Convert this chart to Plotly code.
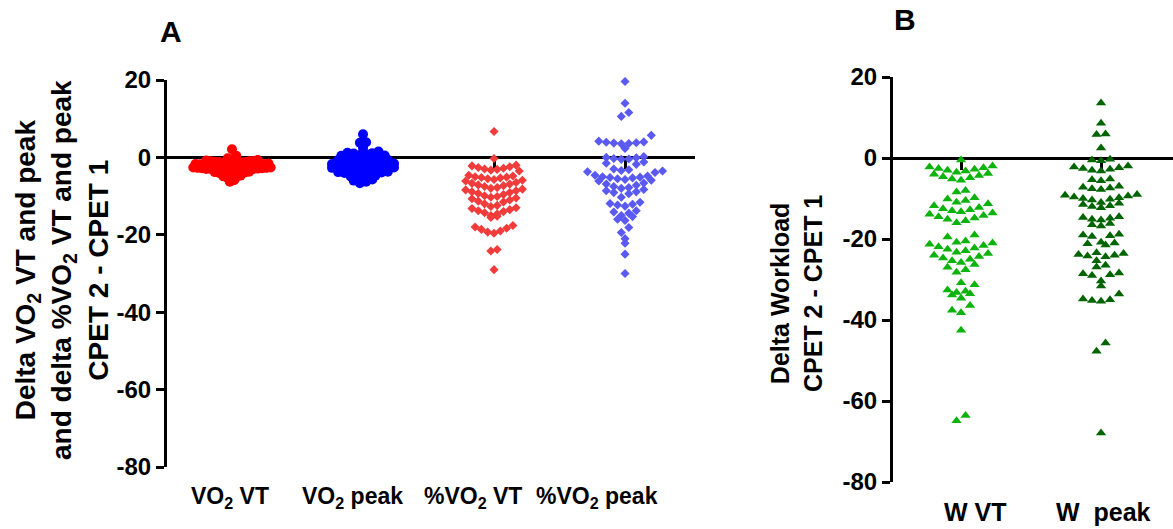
import numpy as np
import plotly.graph_objects as go

W, H = 1173, 529

# ---------------- data ----------------
categories_A = ["VO<sub>2</sub> VT", "VO<sub>2</sub> peak", "%VO<sub>2</sub> VT", "%VO<sub>2</sub> peak"]
categories_B = ["W VT", "W  peak"]
y_ticks = [-80, -60, -40, -20, 0, 20]
y_tick_text = ["-80", "-60", "-40", "-20", "0", "20"]

vo2_vt = [2.1, 0.4, -0.2, -0.5, -0.7, -0.9, -1.0, -1.1, -1.2, -1.3, -1.4, -1.5, -1.5, -1.6, -1.7,
          -1.8, -1.9, -2.0, -2.0, -2.1, -2.2, -2.3, -2.3, -2.4, -2.5, -2.6, -2.6, -2.7, -2.8, -2.9,
          -3.0, -3.0, -3.1, -3.2, -3.3, -3.4, -3.4, -3.5, -3.6, -3.7, -3.8, -3.9, -4.0, -4.1, -4.2,
          -4.3, -4.4, -4.6, -4.7, -4.9, -5.1, -5.3, -5.6, -5.9, -6.3, -1.2, -1.7, -2.2, -2.8, -3.3,
          -0.8, -1.4, -2.0, -2.5, -3.6, -1.0, -1.9, -2.4, -3.0, -2.7]

vo2_peak = [6.0, 3.9, 3.8, 3.1, 2.4, 1.5, 1.2, 1.0, 0.8, 0.6, 0.4, 0.2, 0.0, -0.2, -0.4, -0.5,
            -0.7, -0.9, -1.0, -1.1, -1.2, -1.3, -1.5, -1.6, -1.7, -1.8, -2.0, -2.1, -2.2, -2.3,
            -2.4, -2.5, -2.6, -2.7, -2.8, -3.0, -3.1, -3.2, -3.3, -3.4, -3.5, -3.6, -3.8, -3.9,
            -4.0, -4.1, -4.2, -4.4, -4.5, -4.7, -4.9, -5.0, -5.2, -5.4, -5.7, -6.0, -6.3, -6.7,
            0.5, -0.6, -1.4, -2.9, -3.7, 1.1, -0.3, -1.9, -2.5, -4.3]

pct_vo2_vt = [6.7, -0.3, -2.0, -2.2, -2.4, -2.6, -2.8, -3.0, -3.1, -3.3, -3.5, -4.6, -4.8, -5.0,
              -5.1, -5.2, -5.3, -5.5, -5.7, -5.9, -6.1, -6.5, -6.7, -6.9, -7.1, -7.3, -7.5, -7.8,
              -8.0, -8.2, -8.4, -8.6, -8.9, -9.1, -9.3, -9.6, -9.9, -10.1, -10.3, -10.5, -10.7,
              -11.0, -11.3, -11.5, -12.0, -12.4, -12.7, -13.0, -13.2, -13.5, -13.8, -14.0, -14.3,
              -14.6, -15.0, -15.2, -15.5, -17.6, -18.0, -18.3, -18.6, -19.0, -19.3, -19.6, -23.8,
              -24.2, -29.0]

pct_vo2_peak = [19.6, 14.0, 11.6, 10.6, 5.7, 4.2, 4.0, 3.9, 3.8, 3.7, 3.6, 3.5, 2.3, 0.2, 0.0,
                -0.1, -0.3, -0.4, -0.5, -1.2, -1.5, -1.8, -3.0, -3.2, -3.4, -3.5, -3.7, -3.9,
                -4.6, -4.8, -5.0, -5.1, -5.2, -5.3, -5.5, -5.7, -5.9, -6.1, -6.6, -6.9, -7.2,
                -7.5, -7.8, -8.0, -8.3, -8.6, -8.9, -9.1, -9.4, -10.3, -11.6, -11.9, -12.1,
                -12.3, -12.6, -13.8, -14.1, -14.4, -15.0, -15.3, -16.0, -16.3, -18.1, -19.4,
                -21.0, -22.2, -25.0, -30.0]

w_vt = [-0.5, -2.0, -2.2, -2.4, -2.6, -2.8, -3.0, -3.2, -3.5, -3.8, -4.0, -4.3, -4.6, -4.9, -5.2,
        -5.5, -8.0, -8.4, -9.8, -10.1, -10.5, -10.9, -11.3, -11.8, -12.2, -12.5, -12.8, -13.0,
        -13.3, -13.6, -13.9, -14.2, -14.5, -14.8, -15.1, -15.5, -16.0, -19.0, -19.5, -20.5,
        -20.8, -21.0, -21.3, -21.6, -21.9, -22.2, -22.5, -22.9, -23.3, -23.6, -24.0, -24.3,
        -24.7, -25.0, -25.4, -25.8, -26.3, -27.0, -27.6, -28.2, -30.8, -31.3, -32.6, -32.9,
        -33.2, -33.5, -33.8, -34.6, -36.4, -37.6, -38.2, -42.5, -63.6, -64.9]

w_peak = [13.6, 8.6, 5.9, 5.8, 2.5, -0.3, -0.5, -0.7, -2.0, -2.2, -2.4, -2.6, -2.8, -3.0, -3.2,
          -5.2, -5.4, -5.6, -7.0, -7.2, -7.4, -7.6, -7.8, -9.0, -9.2, -9.4, -9.6, -9.8, -10.0,
          -10.2, -10.4, -11.0, -11.2, -11.5, -11.8, -12.0, -12.3, -14.5, -14.7, -14.9, -15.1,
          -15.3, -16.2, -16.5, -16.8, -18.8, -19.0, -19.2, -19.4, -20.8, -21.0, -21.2, -21.5,
          -23.4, -23.6, -23.8, -24.0, -24.2, -24.4, -25.4, -26.5, -26.9, -28.4, -28.6, -28.8,
          -29.0, -30.4, -31.6, -33.6, -34.8, -35.0, -35.2, -35.4, -45.7, -47.7, -67.9]

# ---------------- geometry ----------------
A_xdom = [167 / W, 695 / W]
A_ydom = [1 - 467 / H, 1 - 80 / H]
B_xdom = [893 / W, 1.0]
B_ydom = [1 - 482 / H, 1 - 77 / H]
A_xrange = [-0.496, 3.534]
B_xrange = [-0.486, 1.514]
y_range = [-80, 20]

A_px_cat = (A_xdom[1] - A_xdom[0]) * W / (A_xrange[1] - A_xrange[0])
B_px_cat = (B_xdom[1] - B_xdom[0]) * W / (B_xrange[1] - B_xrange[0])
A_px_y = (A_ydom[1] - A_ydom[0]) * H / 100.0
B_px_y = (B_ydom[1] - B_ydom[0]) * H / 100.0


def swarm(values, bin_units, step_units):
    vals = np.asarray(values, float)
    keys = np.round(vals / bin_units).astype(int)
    off = np.zeros(len(vals))
    for k in np.unique(keys):
        idx = np.where(keys == k)[0]
        idx = idx[np.argsort(vals[idx], kind="stable")]
        n = len(idx)
        slots = np.arange(n) - (n - 1) / 2.0
        order = np.argsort(np.abs(slots), kind="stable")
        for rank, j in enumerate(idx):
            off[j] = slots[order[rank]] * step_units
    return off


groups_A = [
    (vo2_vt, dict(symbol="circle", size=10, color="#FF0000"), 4.0, 4.3),
    (vo2_peak, dict(symbol="circle", size=10, color="#0000FF"), 4.0, 6.2),
    (pct_vo2_vt, dict(symbol="diamond", size=7, color="#F23C3C"), 9.0, 6.3),
    (pct_vo2_peak, dict(symbol="diamond", size=7, color="#5A5AF2"), 9.0, 7.5),
]
groups_B = [
    (w_vt, dict(symbol="triangle-up", size=9, color="#0DB30D"), 10.0, 9.0),
    (w_peak, dict(symbol="triangle-up", size=9, color="#006400"), 10.0, 9.0),
]

fig = go.Figure()
for i, (vals, mk, bin_px, step_px) in enumerate(groups_A):
    off = swarm(vals, bin_px / A_px_y, step_px / A_px_cat)
    fig.add_trace(go.Scatter(x=i + off, y=vals, mode="markers", xaxis="x", yaxis="y",
                             marker=dict(line=dict(width=0), **mk), showlegend=False,
                             cliponaxis=False, hoverinfo="y"))
for i, (vals, mk, bin_px, step_px) in enumerate(groups_B):
    off = swarm(vals, bin_px / B_px_y, step_px / B_px_cat)
    fig.add_trace(go.Scatter(x=i + off, y=vals, mode="markers", xaxis="x2", yaxis="y2",
                             marker=dict(line=dict(width=0), **mk), showlegend=False,
                             cliponaxis=False, hoverinfo="y"))

FONT = "Liberation Sans, Arial, sans-serif"
zero_frac = (0 - y_range[0]) / (y_range[1] - y_range[0])

common_x = dict(showline=True, linecolor="black", linewidth=3, ticks="outside", ticklen=10,
                tickwidth=3, tickcolor="black", showticklabels=False, showgrid=False,
                zeroline=False, layer="below traces", fixedrange=True, automargin=False)
common_y = dict(range=y_range, showline=True, linecolor="black", linewidth=3, ticks="outside",
                ticklen=8, tickwidth=3, tickcolor="black", tickvals=y_ticks, ticktext=y_tick_text,
                tickfont=dict(family=FONT, size=24, color="black", weight="bold"),
                showgrid=False, zeroline=False, layer="below traces", fixedrange=True,
                automargin=False)

fig.update_layout(
    width=W, height=H, autosize=False,
    margin=dict(l=0, r=0, t=0, b=0, pad=0, autoexpand=False),
    paper_bgcolor="white", plot_bgcolor="white",
    xaxis=dict(domain=A_xdom, range=A_xrange, anchor="free",
               position=A_ydom[0] + zero_frac * (A_ydom[1] - A_ydom[0]),
               tickvals=list(range(len(categories_A))), **common_x),
    yaxis=dict(domain=A_ydom, anchor="x", **common_y),
    xaxis2=dict(domain=B_xdom, range=B_xrange, anchor="free",
                position=B_ydom[0] + zero_frac * (B_ydom[1] - B_ydom[0]),
                tickvals=list(range(len(categories_B))), **common_x),
    yaxis2=dict(domain=B_ydom, anchor="x2", **common_y),
)

ann = []
bold = dict(family=FONT, color="black", weight="bold")
# category labels
A_label_pos = [-0.015, 0.916, 1.84, 2.786]
for lab, xp in zip(categories_A, A_label_pos):
    ann.append(dict(text=lab, x=xp, xref="x", y=1 - 497 / H, yref="paper", showarrow=False,
                    xanchor="center", yanchor="middle", font=dict(size=23, **bold)))
B_label_pos = [0.1, 1.02]
for lab, xp in zip(categories_B, B_label_pos):
    ann.append(dict(text=lab, x=xp, xref="x2", y=1 - 512 / H, yref="paper", showarrow=False,
                    xanchor="center", yanchor="middle", font=dict(size=25, **bold)))
# axis titles
ann.append(dict(text="Delta VO<sub>2</sub> VT and peak<br>and delta %VO<sub>2</sub> VT and peak<br>CPET 2 - CPET 1",
                x=62 / W, y=1 - 270 / H, xref="paper", yref="paper", textangle=-90,
                showarrow=False, xanchor="center", yanchor="middle", align="center",
                font=dict(size=28, **bold)))
ann.append(dict(text="Delta Workload<br>CPET 2 - CPET 1",
                x=796 / W, y=1 - 294 / H, xref="paper", yref="paper", textangle=-90,
                showarrow=False, xanchor="center", yanchor="middle", align="center",
                font=dict(size=25, **bold)))
# panel letters
ann.append(dict(text="A", x=171 / W, y=1 - 31 / H, xref="paper", yref="paper", showarrow=False,
                xanchor="center", yanchor="middle", font=dict(size=30, **bold)))
ann.append(dict(text="B", x=905 / W, y=1 - 19 / H, xref="paper", yref="paper", showarrow=False,
                xanchor="center", yanchor="middle", font=dict(size=30, **bold)))
fig.update_layout(annotations=ann)

fig.write_html("out.html", config={"displayModeBar": False},
               post_script="document.body.style.margin='0px';"
                           "document.documentElement.style.overflow='hidden';")
